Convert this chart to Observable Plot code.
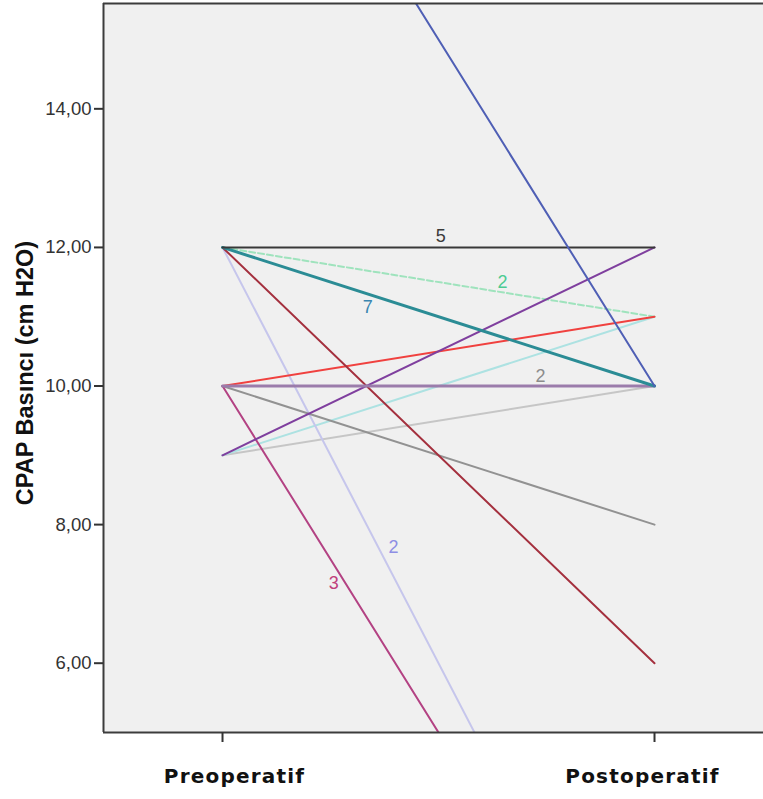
<!DOCTYPE html>
<html><head><meta charset="utf-8">
<script src="https://cdn.jsdelivr.net/npm/d3@7"></script>
<script src="https://cdn.jsdelivr.net/npm/@observablehq/plot@0.6"></script>
<style>body{margin:0;background:#fff}</style>
</head><body><div id="chart"></div>
<script>
// ---- data ----
const categories = ["Preoperatif", "Postoperatif"];
const seriesIds  = ["a","b","c","d","e","f","g","h","i","j","k","l","m"];
const preValues  = [20, 12, 12, 12, 12, 12, 10, 10, 10, 10, 9, 9, 9];
const postValues = [10, 12, 11, 10,  6,  0, 11, 10,  8,  0, 12, 11, 10];
const yTicks = [6, 8, 10, 12, 14];
const yDomain = [5, 15.52];
const xDomain = [-0.2755, 1.2523];
// count labels: text, series id, fraction along the segment
const countTexts  = ["5", "2", "7", "2", "2", "3"];
const countSeries = ["b", "c", "d", "h", "f", "j"];
const countAt     = [0.505, 0.648, 0.336, 0.736, 0.361, 0.285];

// ---- styles ----
const seriesColors = {
  a:"#4f5fb5", b:"#383838", c:"#9fe3bd", d:"#2b8c95", e:"#a4303e", f:"#c6c6ec",
  g:"#f0413f", h:"#9b7cab", i:"#929292", j:"#b34283", k:"#7f3f9e", l:"#ade2e2", m:"#c6c6c6"
};
const drawOrder = ["m","l","f","c","i","g","e","j","k","h","d","b","a"];
const thick = new Set(["d","h"]);
const dashed = new Set(["c"]);
const labelStyle = [
  {fill:"#3a3a3a", dx:0,   dy:-11},
  {fill:"#4ccb92", dx:0,   dy:-10},
  {fill:"#3a86b0", dx:0,   dy:13},
  {fill:"#8c8c8c", dx:0,   dy:-10},
  {fill:"#8e8ee4", dx:15,  dy:0},
  {fill:"#c0407c", dx:-12, dy:0}
];
const catShift = [12, -12];

// ---- build table ----
const rows = [];
for (const id of drawOrder) {
  const k = seriesIds.indexOf(id);
  rows.push({id, stage: 0, value: preValues[k]});
  rows.push({id, stage: 1, value: postValues[k]});
}
const countRows = countTexts.map((t, i) => {
  const k = seriesIds.indexOf(countSeries[i]);
  const f = countAt[i];
  return {text: t, stage: f, value: preValues[k] + (postValues[k] - preValues[k]) * f};
});
const catRows = categories.map((c, i) => ({stage: i, text: c}));

const fmt = d => d.toFixed(2).replace(".", ",");
const lineMarks = drawOrder.map(id => Plot.line(rows.filter(r => r.id === id), {
  x: "stage", y: "value",
  stroke: seriesColors[id],
  strokeWidth: thick.has(id) ? 3 : 2,
  strokeDasharray: dashed.has(id) ? "6,3" : null,
  clip: true
}));

const plot = Plot.plot({
  width: 763, height: 799,
  marginLeft: 103, marginRight: 0, marginTop: 3, marginBottom: 67,
  style: {fontFamily: "'Liberation Sans', Arial, sans-serif", fontSize: "18px", background: "#fff", overflow: "visible"},
  x: {type: "linear", domain: xDomain},
  y: {type: "linear", domain: yDomain},
  marks: [
    Plot.frame({fill: "#f0f0f0", stroke: null}),
    ...lineMarks,
    ...countRows.map((r, i) => Plot.text([r], {
      x: "stage", y: "value", text: "text",
      fill: labelStyle[i].fill, dx: labelStyle[i].dx, dy: labelStyle[i].dy,
      fontSize: 18
    })),
    Plot.ruleY([yDomain[0]], {stroke: "#3c3c3c", strokeWidth: 2}),
    Plot.ruleY([yDomain[1]], {stroke: "#3c3c3c", strokeWidth: 2}),
    Plot.ruleX([xDomain[0]], {stroke: "#3c3c3c", strokeWidth: 2}),
    Plot.axisY({ticks: yTicks, tickFormat: fmt, tickSize: 9, tickPadding: 3,
      fontSize: 18.5, color: "#333", strokeWidth: 2, label: null}),
    Plot.axisX({ticks: [0, 1], tickFormat: () => "", tickSize: 10,
      color: "#333", strokeWidth: 2, label: null}),
    ...catRows.map((r, i) => Plot.text([r], {
      x: "stage", frameAnchor: "bottom", text: "text", dx: catShift[i], dy: 50,
      fontSize: 20, fontWeight: "bold", fontFamily: "'DejaVu Sans', Verdana, sans-serif",
      fill: "#111", className: "cat-label"
    })),
    Plot.text(["CPAP Basıncı (cm H2O)"], {frameAnchor: "left", textAnchor: "middle", dx: -78, dy: 5, rotate: -90,
      fontSize: 23.5, fontWeight: "bold", fill: "#111"})
  ]
});
document.getElementById("chart").appendChild(plot);
d3.select(plot).selectAll('.cat-label text').style("letter-spacing", "1.2px");
</script>
</body></html>
